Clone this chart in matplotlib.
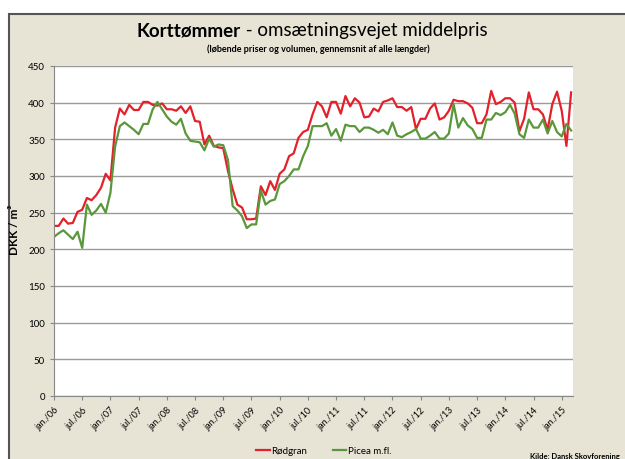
import matplotlib.pyplot as plt
from matplotlib.patches import Rectangle

# Månedlige priser, jan/06 - mar/15 (DKK / m3)
rodgran = [232, 232, 242, 235, 236, 251, 254, 270, 267, 274, 284, 303,
           294, 366, 392, 384, 397, 390, 390, 401, 401, 397, 396, 399,
           391, 391, 389, 395, 386, 395, 375, 374, 343, 355, 341, 339,
           338, 307, 282, 261, 257, 241, 241, 242, 286, 274, 293, 281,
           303, 309, 327, 331, 352, 360, 363, 384, 401, 395, 380, 401,
           401, 385, 409, 395, 406, 400, 380, 381, 392, 388, 401, 403,
           406, 394, 394, 389, 394, 364, 378, 378, 392, 399, 377, 380,
           389, 404, 402, 402, 399, 393, 372, 372, 384, 416, 398, 401,
           406, 406, 400, 361, 378, 414, 391, 391, 384, 363, 398, 415,
           389, 341, 414]
picea = [217, 222, 226, 220, 214, 224, 202, 261, 247, 253, 262, 250,
         277, 340, 368, 373, 368, 363, 357, 371, 371, 391, 401, 391,
         381, 374, 370, 378, 358, 348, 347, 346, 335, 351, 340, 343,
         342, 322, 259, 253, 245, 229, 234, 234, 280, 261, 266, 268,
         289, 293, 300, 309, 309, 327, 341, 368, 368, 368, 372, 355,
         364, 348, 370, 368, 368, 360, 366, 366, 363, 359, 363, 357,
         373, 355, 353, 357, 360, 364, 351, 351, 355, 360, 351, 351,
         358, 398, 366, 379, 369, 364, 352, 352, 377, 377, 386, 383,
         387, 397, 385, 357, 352, 377, 366, 366, 377, 358, 375, 360,
         354, 371, 362]
years = ["06", "07", "08", "09", "10", "11", "12", "13", "14", "15"]

months = list(range(len(rodgran)))
tick_pos = []
tick_lab = []
for i, y in enumerate(years):
    tick_pos.append(12 * i)
    tick_lab.append("jan./" + y)
    if y != "15":
        tick_pos.append(12 * i + 6)
        tick_lab.append("jul./" + y)

plt.rcParams["font.family"] = ["Lato", "DejaVu Sans"]

fig = plt.figure(figsize=(6.25, 4.6), dpi=100)
fig.patch.set_facecolor("white")
# beige baggrund med mørk kant (som i Excel-diagrammet)
bg = fig.add_axes([0, 0, 1, 1], zorder=-1)
bg.axis("off")
bg.add_patch(Rectangle((9 / 625, -0.1), 1.2, 1.1 - 15 / 460,
                       transform=bg.transAxes, facecolor="#E7E3D5",
                       edgecolor="#555555", linewidth=1.5, clip_on=False))

ax = fig.add_axes([54 / 625, 1 - 397 / 460, 519 / 625, 330 / 460], zorder=1)
ax.set_facecolor("white")
ax.plot(months, rodgran, color="#E3212B", lw=1.6, label="Rødgran")
ax.plot(months, picea, color="#5A973A", lw=1.6, label="Picea m.fl.")

ax.set_ylim(0, 450)
ax.set_xlim(0, 110.4)
ax.set_yticks(range(0, 451, 50))
ax.grid(axis="y", color="#9A9A9A", lw=1.0)
ax.set_axisbelow(True)
ax.set_xticks(tick_pos)
ax.set_xticklabels(tick_lab, rotation=45, ha="right", va="top",
                   rotation_mode="anchor", fontsize=6.5)
ax.tick_params(axis="y", labelsize=7, length=3, color="#888888")
ax.tick_params(axis="x", length=3, color="#888888")
for s in ["top", "right"]:
    ax.spines[s].set_visible(False)
for s in ["left", "bottom"]:
    ax.spines[s].set_color("#888888")

fig.text(15 / 625, 0.5, "DKK / m³", rotation=90, fontsize=8.5,
         fontweight="bold", ha="center", va="center")

fig.text(241 / 625, 1 - 31 / 460, "Korttømmer", ha="right", va="center",
         fontsize=13.5, fontweight="bold")
fig.text(241 / 625, 1 - 31 / 460, " - omsætningsvejet middelpris",
         ha="left", va="center", fontsize=13.5)
fig.text(318 / 625, 1 - 49 / 460,
         "(løbende priser og volumen, gennemsnit af alle længder)",
         ha="center", va="center", fontsize=6.5, fontweight="bold")

fig.legend(loc="center", bbox_to_anchor=(0.518, 1 - 452 / 460), ncol=2,
           frameon=False, fontsize=7, handlelength=1.4, columnspacing=2.6,
           handletextpad=0.15)
fig.text(0.992, 1 - 457 / 460, "Kilde: Dansk Skovforening", ha="right",
         va="center", fontsize=5.5, fontweight="bold")

fig.savefig("out.png", dpi=100)
